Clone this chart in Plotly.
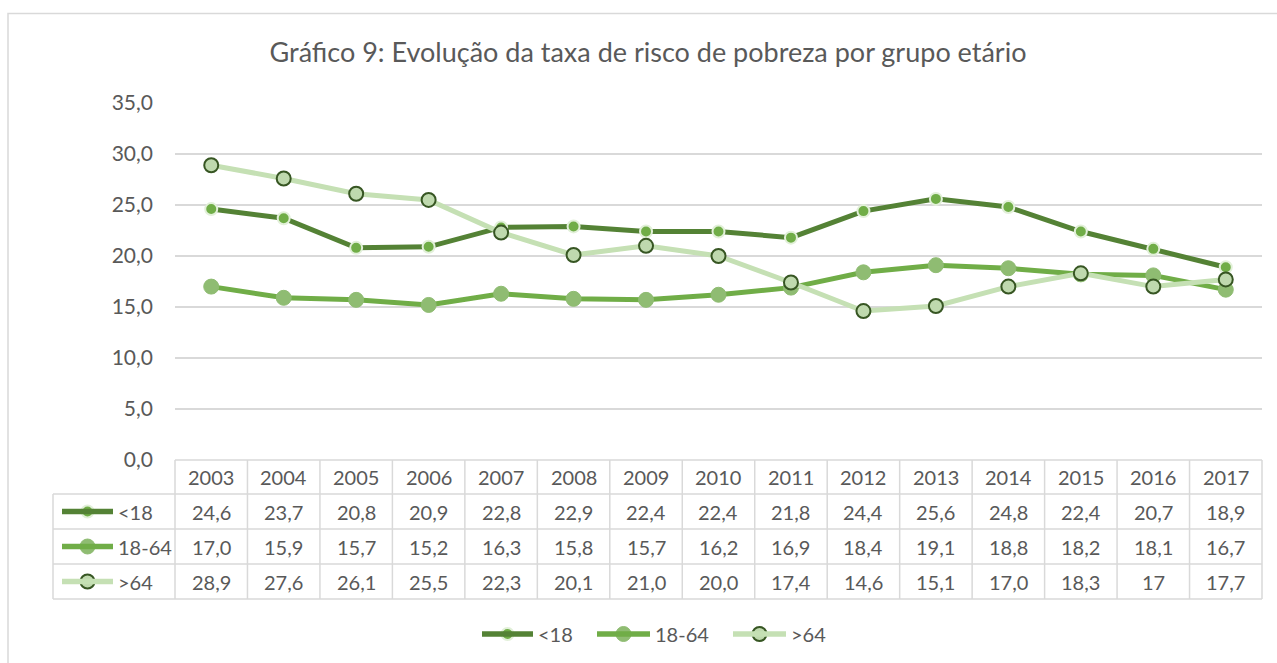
import plotly.graph_objects as go

years = [str(y) for y in range(2003, 2018)]
under18 = [24.6, 23.7, 20.8, 20.9, 22.8, 22.9, 22.4, 22.4, 21.8, 24.4, 25.6, 24.8, 22.4, 20.7, 18.9]
age18_64 = [17.0, 15.9, 15.7, 15.2, 16.3, 15.8, 15.7, 16.2, 16.9, 18.4, 19.1, 18.8, 18.2, 18.1, 16.7]
over64 = [28.9, 27.6, 26.1, 25.5, 22.3, 20.1, 21.0, 20.0, 17.4, 14.6, 15.1, 17.0, 18.3, 17, 17.7]
series_names = ["<18", "18-64", ">64"]
title_text = "Gráfico 9: Evolução da taxa de risco de pobreza por grupo etário"
y_ticks = [0, 5, 10, 15, 20, 25, 30, 35]

W, H = 1277, 663
L, R, T, B = 175, 1262, 103, 460
TXT = "#595959"
GRID = "#D9D9D9"
FONT = "Lato, Calibri, Carlito, sans-serif"

styles = [
    dict(line=dict(color="#548235", width=5),
         marker=dict(color="#70AD47", size=12, line=dict(color="#E2F0D9", width=2))),
    dict(line=dict(color="#70AD47", width=5),
         marker=dict(color="#8FBC72", size=15, line=dict(color="#8FBC72", width=1))),
    dict(line=dict(color="#C5E0B4", width=5),
         marker=dict(color="#BFD9AE", size=14, line=dict(color="#375623", width=2))),
]


def fmt(v):
    if isinstance(v, int):
        return str(v)
    return f"{v:.1f}".replace(".", ",")


def px_x(px):
    return px / W


def px_y(py):
    return 1 - py / H


fig = go.Figure()
data = [under18, age18_64, over64]
for name, vals, st in zip(series_names, data, styles):
    fig.add_trace(go.Scatter(x=years, y=vals, name=name, mode="lines+markers",
                             line=st["line"], marker=st["marker"], showlegend=False,
                             hoverinfo="x+y+name"))

shapes = []
annotations = []

# chart border
shapes.append(dict(type="rect", xref="paper", yref="paper",
                   x0=px_x(8), x1=px_x(W + 5), y0=px_y(13.5), y1=px_y(H + 5),
                   line=dict(color=GRID, width=1.5), fillcolor="rgba(0,0,0,0)", layer="below"))

# data table grid
row_lines = [460, 494, 529, 564, 599]
for i, py in enumerate(row_lines):
    x0 = L if i == 0 else 53
    shapes.append(dict(type="line", xref="paper", yref="paper",
                       x0=px_x(x0), x1=px_x(R), y0=px_y(py), y1=px_y(py),
                       line=dict(color=GRID, width=1.5)))
col_w = (R - L) / len(years)
for j in range(len(years) + 1):
    cx = L + j * col_w
    shapes.append(dict(type="line", xref="paper", yref="paper",
                       x0=px_x(cx), x1=px_x(cx), y0=px_y(460), y1=px_y(599),
                       line=dict(color=GRID, width=1.5)))
shapes.append(dict(type="line", xref="paper", yref="paper",
                   x0=px_x(53), x1=px_x(53), y0=px_y(494), y1=px_y(599),
                   line=dict(color=GRID, width=1.5)))

tfont = dict(family=FONT, size=20, color=TXT)
for j, yr in enumerate(years):
    annotations.append(dict(x=px_x(L + (j + 0.5) * col_w), xref="paper", y=px_y(477), yref="paper",
                            text=yr, showarrow=False, font=tfont, xanchor="center", yanchor="middle"))
row_centers = [511.5, 546.5, 581.5]
for name, vals, rc in zip(series_names, data, row_centers):
    for j, v in enumerate(vals):
        annotations.append(dict(x=px_x(L + (j + 0.5) * col_w), xref="paper", y=px_y(rc), yref="paper",
                                text=fmt(v), showarrow=False, font=tfont,
                                xanchor="center", yanchor="middle"))
    annotations.append(dict(x=px_x(116), xref="paper", y=px_y(rc), yref="paper", text=name,
                            showarrow=False, font=tfont, xanchor="left", yanchor="middle"))

# legend keys (table and bottom legend)
key_pos = [(60, 115, rc) for rc in row_centers]
bottom_keys = [(480, 535, 634, 536), (595, 652, 634, 653), (731, 788, 634, 789)]
for i, (x0, x1, yc) in enumerate(key_pos):
    shapes.append(dict(type="line", xref="paper", yref="paper",
                       x0=px_x(x0 + 2), x1=px_x(x1 - 2), y0=px_y(yc), y1=px_y(yc),
                       line=dict(color=styles[i]["line"]["color"], width=5.5)))
for i, (x0, x1, yc, tx) in enumerate(bottom_keys):
    shapes.append(dict(type="line", xref="paper", yref="paper",
                       x0=px_x(x0 + 2), x1=px_x(x1 - 2), y0=px_y(yc), y1=px_y(yc),
                       line=dict(color=styles[i]["line"]["color"], width=5.5)))
    annotations.append(dict(x=px_x(tx), xref="paper", y=px_y(yc), yref="paper",
                            text=series_names[i], showarrow=False, font=tfont,
                            xanchor="left", yanchor="middle"))

for i in range(3):
    pts_x = [(key_pos[i][0] + key_pos[i][1]) / 2, (bottom_keys[i][0] + bottom_keys[i][1]) / 2]
    pts_y = [key_pos[i][2], bottom_keys[i][2]]
    fig.add_trace(go.Scatter(x=pts_x, y=pts_y, xaxis="x2", yaxis="y2", mode="markers",
                             marker=styles[i]["marker"], cliponaxis=False,
                             showlegend=False, hoverinfo="skip"))

fig.update_layout(
    width=W, height=H, autosize=False,
    margin=dict(l=0, r=0, t=0, b=0, pad=0, autoexpand=False),
    paper_bgcolor="white", plot_bgcolor="rgba(0,0,0,0)",
    separators=",.", showlegend=False,
    font=dict(family=FONT, color=TXT),
    title=dict(text=title_text, x=648 / W, xanchor="center", xref="container", yref="container",
               y=1 - 53 / H, yanchor="middle", automargin=False,
               font=dict(family=FONT, size=27, color=TXT)),
    xaxis=dict(domain=[L / W, R / W], anchor="y", automargin=False,
               type="category", categoryorder="array", categoryarray=years,
               range=[-0.5, len(years) - 0.5], showgrid=False, showticklabels=False,
               zeroline=False, showline=False, fixedrange=True),
    yaxis=dict(domain=[1 - B / H, 1 - T / H], anchor="x", automargin=False,
               range=[0, 35], tickvals=y_ticks, tickformat=".1f",
               showgrid=True, gridcolor=GRID, gridwidth=1.5, zeroline=False,
               showline=False, ticks="", ticklabelstandoff=21,
               tickfont=dict(family=FONT, size=21, color=TXT), fixedrange=True),
    xaxis2=dict(domain=[0, 1], anchor="y2", range=[0, W], visible=False, fixedrange=True,
                automargin=False),
    yaxis2=dict(domain=[0, 1], anchor="x2", range=[H, 0], visible=False, fixedrange=True,
                automargin=False),
    shapes=shapes, annotations=annotations,
)

fig.write_html("out.html", config=dict(displayModeBar=False, responsive=False),
               post_script="document.body.style.margin='0px';")
